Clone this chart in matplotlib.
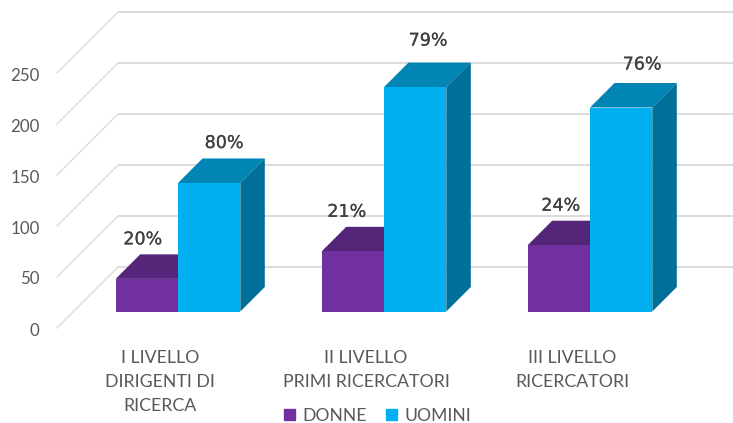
import matplotlib
matplotlib.use("Agg")
import matplotlib.pyplot as plt
from matplotlib.patches import Patch
import matplotlib.patheffects as pe

categories = ["I LIVELLO\nDIRIGENTI DI\nRICERCA", "II LIVELLO\nPRIMI RICERCATORI", "III LIVELLO\nRICERCATORI"]
donne = [32, 59, 65]
uomini = [126, 220, 200]
donne_pct = ["20%", "21%", "24%"]
uomini_pct = ["80%", "79%", "76%"]
yticks = [0, 50, 100, 150, 200, 250]

W, H = 733, 423
PX_X = 206.0      # pixels per category
PX_Y = 1.02       # pixels per value unit
X0 = 178.0        # pixel of first category centre
Y0 = 311.5        # pixel of value 0 on bar front
px_x = lambda p: p / PX_X
px_y = lambda p: p / PX_Y

fig = plt.figure(figsize=(W / 100, H / 100), dpi=100, facecolor="white")
ax = fig.add_axes([0, 0, 1, 1])
ax.set_xlim(-X0 / PX_X, (W - X0) / PX_X)
ax.set_ylim((Y0 - H) / PX_Y, Y0 / PX_Y)
ax.axis("off")

GRID = "#d9d9d9"
TXT = "#595959"
bar_w = px_x(62.3)
dep_x, dep_y = px_x(24.5), px_y(24.5)

wall_left = px_x(118 - X0)
front_left = px_x(57 - X0)
wall_dy = px_y(Y0 - 267)
front_dy = px_y(Y0 - 328)
xmax = px_x(W - X0)
for v in yticks:
    ax.plot([wall_left, xmax], [v + wall_dy] * 2, color=GRID, lw=1.3, zorder=1, solid_capstyle="butt")
    ax.plot([front_left, wall_left], [v + front_dy, v + wall_dy], color=GRID, lw=0.9, zorder=1)
    ax.annotate(str(v), (front_left, v + front_dy), xytext=(-12.5, -1.8), textcoords="offset points",
                ha="right", va="center", fontsize=12.2, color=TXT, family="Lato")


def bar3d(x0, value, front, top, side, z):
    x1 = x0 + bar_w
    ax.bar(x0, value, width=bar_w, align="edge", color=front, zorder=z + 0.2, linewidth=0)
    ax.fill([x0, x0 + dep_x, x1 + dep_x, x1], [value, value + dep_y, value + dep_y, value],
            color=top, zorder=z, linewidth=0)
    ax.fill([x1, x1 + dep_x, x1 + dep_x, x1], [0, dep_y, value + dep_y, value],
            color=side, zorder=z, linewidth=0)


stroke = [pe.withStroke(linewidth=0.15, foreground="#404040")]
don_off = [(-4, 39.5), (-6, 39.5), (2, 39.5)]
uom_off = [(15, 40), (13, 46.5), (21, 43)]
for i in range(len(categories)):
    bar3d(i - bar_w, donne[i], "#7030a0", "#54267a", "#54267a", 2)
    bar3d(i, uomini[i], "#00b0f0", "#0085b5", "#006f99", 3)
    ax.annotate(donne_pct[i], (i - bar_w / 2, donne[i]),
                xytext=(don_off[i][0] * .72, don_off[i][1] * .72), textcoords="offset points",
                ha="center", va="center", fontsize=12.6, color="#404040", family="DejaVu Sans", zorder=6,
                path_effects=stroke)
    ax.annotate(uomini_pct[i], (i + bar_w / 2, uomini[i]),
                xytext=(uom_off[i][0] * .72, uom_off[i][1] * .72), textcoords="offset points",
                ha="center", va="center", fontsize=12.6, color="#404040", family="DejaVu Sans", zorder=6,
                path_effects=stroke)
    ax.annotate(categories[i], (i - px_x(18), 0), xytext=(0, -27.5), textcoords="offset points",
                ha="center", va="top", fontsize=12.8, color=TXT, family="Lato", linespacing=1.62)

handles = [Patch(color="#7030a0", label="DONNE"), Patch(color="#00b0f0", label="UOMINI")]
leg = fig.legend(handles=handles, loc="center", bbox_to_anchor=(377.5 / W, 1 - 415.5 / H), ncol=2, frameon=False,
                 prop={"family": "Lato", "size": 12.6}, labelcolor=TXT, handlelength=0.63, handleheight=0.63,
                 handletextpad=0.4, columnspacing=1.14, borderpad=0, borderaxespad=0)

fig.savefig("out.png", dpi=100)
